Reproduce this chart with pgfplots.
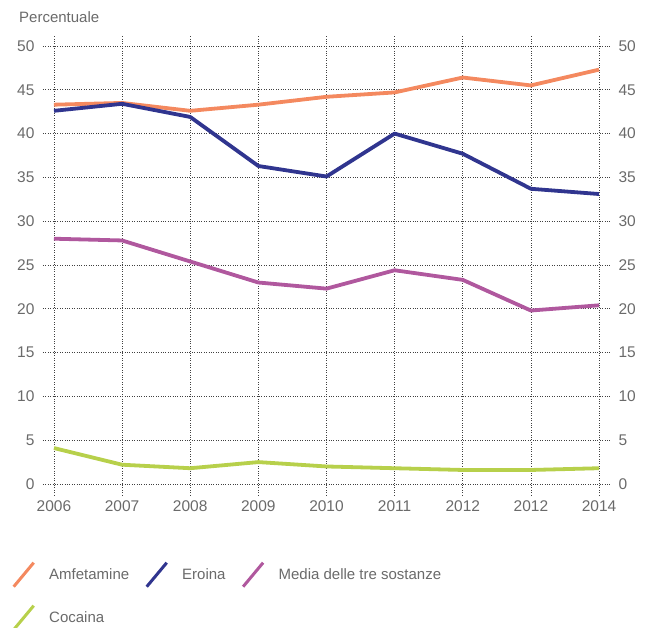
\documentclass[border=0pt]{standalone}
\usepackage{pgfplots}
\pgfplotsset{compat=1.18}
\usepackage{fontspec}
\setmainfont{Liberation Sans}
\definecolor{amf}{HTML}{F4895F}
\definecolor{ero}{HTML}{30358F}
\definecolor{med}{HTML}{B0589E}
\definecolor{coc}{HTML}{B7D04B}
\definecolor{txt}{HTML}{6A6A6A}
\pgfplotsset{
  base/.style={
    scale only axis, width=567pt, height=460pt,
    at={(0,0)}, anchor=south west,
    xmin=-0.161, xmax=8.161, ymin=-1.256, ymax=51.256,
    xtick={0,...,8}, ytick={0,5,...,50},
    major tick length=0pt,
    axis line style={draw=none},
    tick label style={font=\fontsize{15.5}{17}\selectfont, text=txt},
    /pgf/number format/assume math mode=true,
  }
}
\begin{document}
\begin{tikzpicture}
\begin{axis}[base,
  xticklabels={2006,2007,2008,2009,2010,2011,2012,2012,2014},
  grid=major, grid style={dotted, line width=0.7pt, color=black!75},
  yticklabel style={xshift=-5pt},
  xticklabel style={yshift=-2pt},
  legend columns=3,
  legend cell align=left,
  legend style={draw=none, fill=none, at={(0,0)}, anchor=north west, xshift=-34pt, yshift=-64pt,
    font=\fontsize{15}{17}\selectfont, text=txt,
    /tikz/every even column/.append style={column sep=14pt},
    /tikz/every odd column/.append style={column sep=12pt},
    row sep=16pt},
  legend image code/.code={\draw[#1, line width=3pt] (0pt,-12pt) -- (20pt,12pt);},
  every axis plot/.append style={line width=3.8pt, line join=round},
]
\addplot[amf] coordinates {(0,43.3) (1,43.5) (2,42.6) (3,43.3) (4,44.2) (5,44.7) (6,46.4) (7,45.5) (8,47.3)};
\addlegendentry{Amfetamine}
\addplot[ero] coordinates {(0,42.6) (1,43.4) (2,41.9) (3,36.3) (4,35.1) (5,40.0) (6,37.7) (7,33.7) (8,33.1)};
\addlegendentry{Eroina}
\addplot[med] coordinates {(0,28.0) (1,27.8) (2,25.4) (3,23.0) (4,22.3) (5,24.4) (6,23.3) (7,19.8) (8,20.4)};
\addlegendentry{Media delle tre sostanze}
\addplot[coc] coordinates {(0,4.1) (1,2.2) (2,1.8) (3,2.5) (4,2.0) (5,1.8) (6,1.6) (7,1.6) (8,1.8)};
\addlegendentry{Cocaina}
\end{axis}
\begin{axis}[base, xticklabels={}, yticklabel pos=right, yticklabel style={xshift=5pt}]
\end{axis}
\node[anchor=west, text=txt, font=\fontsize{15}{17}\selectfont, inner sep=0pt] at (-24pt,478pt) {Percentuale};
\pgfresetboundingbox
\useasboundingbox (-43pt,-133pt) rectangle (605pt,495pt);
\end{tikzpicture}
\end{document}
